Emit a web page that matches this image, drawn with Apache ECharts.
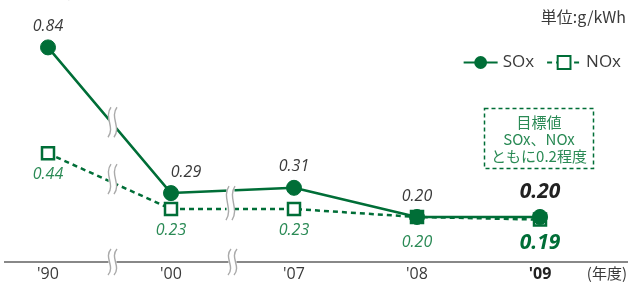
<!DOCTYPE html>
<html><head><meta charset="utf-8">
<script src="https://cdn.jsdelivr.net/npm/echarts@6/dist/echarts.min.js"></script>
<style>html,body{margin:0;padding:0;background:#fff}#c{width:628px;height:284px}</style>
</head><body><div id="c"></div><script>
const categories = ["'90", "'00", "'07", "'08", "'09"];
const soxValues = [0.84, 0.29, 0.31, 0.20, 0.20];
const noxValues = [0.44, 0.23, 0.23, 0.20, 0.19];
const titleText = '【火力発電所のSOx・NOx排出原単位】';
const unitText = '単位:g/kWh';
const yearText = '(年度)';
const targetLines = ['目標値', 'SOx、NOx', 'ともに0.2程度'];

const GREEN = '#006e37';
const LGREEN = '#2a8a55';
const TXT = '#3a3a3a';
const NUMFONT = '"Open Sans", "Noto Sans", sans-serif';
const JPFONT = '"Noto Sans CJK JP", "Noto Sans", sans-serif';
const last = categories.length - 1;

const soxData = soxValues.map((v, i) => {
  const lab = { show: true, position: 'top', distance: 5, formatter: v.toFixed(2),
    fontStyle: 'italic', fontFamily: NUMFONT, fontSize: 16, color: TXT };
  if (i === 1) lab.offset = [15, 0];
  if (i === last) { lab.fontWeight = 'bold'; lab.fontSize = 21; lab.color = '#222'; lab.distance = 6; }
  return { value: v, label: lab };
});
const noxData = noxValues.map((v, i) => {
  const lab = { show: true, position: 'bottom', distance: 6, formatter: v.toFixed(2),
    fontStyle: 'italic', fontFamily: NUMFONT, fontSize: 16, color: LGREEN };
  if (i === 3) lab.distance = 10;
  if (i === last) { lab.fontWeight = 'bold'; lab.fontSize = 21; lab.color = GREEN; lab.distance = 6; }
  return { value: v, label: lab };
});

const chart = echarts.init(document.getElementById('c'), null, { renderer: 'canvas' });
chart.setOption({
  animation: false,
  backgroundColor: '#fff',
  title: { text: titleText, left: 4, top: -24,
    textStyle: { fontFamily: JPFONT, fontSize: 19, fontWeight: 'bold', color: '#222' } },
  legend: {
    right: 2, top: 49, itemWidth: 34, itemHeight: 16, itemGap: 12,
    textStyle: { fontFamily: NUMFONT, fontSize: 17, color: TXT },
    data: ['SOx', 'NOx']
  },
  grid: { left: 48, right: 88, top: 31.5, bottom: 22 },
  xAxis: {
    type: 'category', data: categories, boundaryGap: false,
    axisLine: { show: false }, axisTick: { show: false },
    axisLabel: {
      margin: 4, fontFamily: NUMFONT, fontSize: 16, color: TXT,
      formatter: (v, i) => i === last ? '{b|' + v + '}' : v,
      rich: { b: { fontWeight: 'bold', fontFamily: NUMFONT, fontSize: 16, color: '#222' } }
    }
  },
  yAxis: { type: 'value', min: 0.03, max: 0.9, show: false, splitLine: { show: false } },
  series: [
    { name: 'NOx', type: 'line', data: noxData, z: 2,
      symbol: 'rect', symbolSize: 12,
      itemStyle: { color: '#fff', borderColor: GREEN, borderWidth: 2.5 },
      lineStyle: { color: GREEN, width: 2.5, type: [5, 4] } },
    { name: 'SOx', type: 'line', data: soxData, z: 3,
      symbol: 'circle', symbolSize: 15,
      itemStyle: { color: GREEN, borderColor: GREEN },
      lineStyle: { color: GREEN, width: 2.5 } }
  ]
});

function px(si, i, v) { return chart.convertToPixel({ seriesIndex: si }, [i, v]); }
function brk(x, y, h) {
  const els = [{ type: 'rect', shape: { x: x - 4, y: y - h / 2, width: 8, height: h },
    style: { fill: '#fff' }, z: 50 }];
  [-3, 3].forEach(d => {
    const x0 = x + d;
    els.push({ type: 'bezierCurve', z: 51,
      shape: { x1: x0 + 1.5, y1: y - h / 2, cpx1: x0 - 6, cpy1: y - h / 6,
               cpx2: x0 + 6, cpy2: y + h / 6, x2: x0 - 1.5, y2: y + h / 2 },
      style: { stroke: '#aaa', lineWidth: 1.4, fill: null } });
  });
  return els;
}

const axisY = 284 - 22;
const s0 = px(1, 0, soxValues[0]), s1 = px(1, 1, soxValues[1]), s2 = px(1, 2, soxValues[2]);
const n0 = px(0, 0, noxValues[0]), n1 = px(0, 1, noxValues[1]), n2 = px(0, 2, noxValues[2]);
const bx1 = (s0[0] + s1[0]) / 2 + 3;
const bx2 = (s1[0] + s2[0]) / 2;
let gr = [];
gr.push({ type: 'line', shape: { x1: 4, y1: axisY, x2: 628, y2: axisY },
  style: { stroke: '#888', lineWidth: 2 }, z: 10 });
gr = gr.concat(brk(bx1, axisY, 26));
gr = gr.concat(brk(bx2, axisY, 26));
gr = gr.concat(brk(bx1, (s0[1] + s1[1]) / 2 + 2, 30));
gr = gr.concat(brk(bx1, (n0[1] + n1[1]) / 2 - 2, 30));
gr = gr.concat(brk(bx2 - 2, (s1[1] + n2[1]) / 2 + 2, 34));
gr.push({ type: 'text', z: 20, style: { text: unitText, x: 626, y: 17, align: 'right', verticalAlign: 'middle',
  font: '16px ' + JPFONT, fill: TXT } });
gr.push({ type: 'text', z: 20, style: { text: yearText, x: 627, y: 273, align: 'right', verticalAlign: 'middle',
  font: '15px ' + JPFONT, fill: TXT } });
gr.push({ type: 'rect', z: 20, shape: { x: 484.5, y: 108.5, width: 109, height: 60 },
  style: { fill: 'none', stroke: GREEN, lineWidth: 1.5, lineDash: [4, 3] } });
targetLines.forEach((t, k) => {
  gr.push({ type: 'text', z: 20, style: { text: t, x: 539, y: 122 + k * 17, align: 'center', verticalAlign: 'middle',
    font: '15px ' + JPFONT, fill: LGREEN } });
});
chart.setOption({ graphic: gr });
</script></body></html>
